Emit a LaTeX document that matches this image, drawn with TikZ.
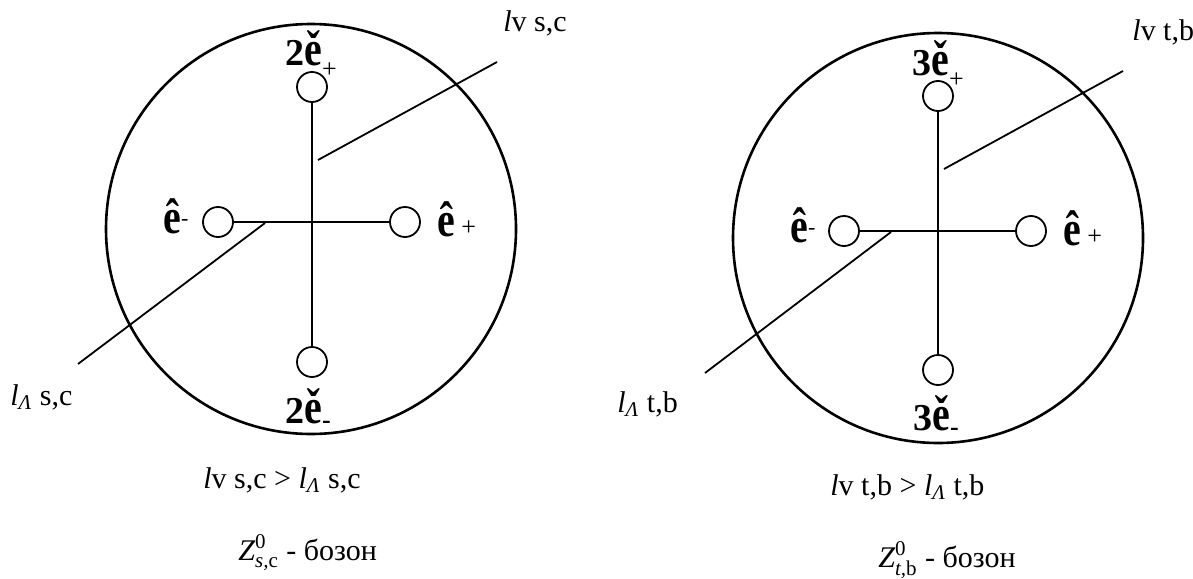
\documentclass[tikz,border=0pt]{standalone}
\usepackage{fontspec}
\setmainfont{Liberation Serif}
\usepackage{amsmath}
\usepackage{graphicx}
\usetikzlibrary{positioning}

% accented vectors and their indices
\newcommand{\eCaron}{\scalebox{1.05}[1.3]{ě}}
\newcommand{\eHat}{\scalebox{1.05}[1.3]{ê}}
\newcommand{\subPlus}{{\fontsize{13}{13}\selectfont\mdseries\raisebox{-6pt}{+}}}
\newcommand{\sidePlus}{{\fontsize{13}{13}\selectfont\mdseries\raisebox{0.5pt}{+}}}
\newcommand{\subMinus}{{\fontsize{13}{13}\selectfont\bfseries\raisebox{-2.8pt}{-}}}
\newcommand{\supMinus}{{\fontsize{11}{11}\selectfont\mdseries\raisebox{4pt}{-}}}
\newcommand{\lLam}{\textit{l}\textsubscript{\textit{Λ}}}

\begin{document}
\begin{tikzpicture}[
    x=0.5pt, y=-0.5pt,
    ring/.style={line width=1.3pt},
    pole/.style={draw, circle, minimum size=15pt, inner sep=0pt, line width=0.9pt},
    axis/.style={line width=0.9pt},
    vec/.style={anchor=base west, inner sep=0pt, font=\fontsize{19}{22}\selectfont\bfseries},
    txt/.style={anchor=base west, inner sep=0pt, font=\fontsize{15}{18}\selectfont}
  ]
    \useasboundingbox (0,0) rectangle (1193,578);

    % left: s,c
    \draw[ring] (311,229) circle [radius=205];
    \node[pole] (lt) at (312,87) {};
    \node[pole] (lb) at (312,362) {};
    \node[pole] (ll) at (218,222) {};
    \node[pole] (lr) at (405,222) {};
    \draw[axis] (lt) -- (lb);
    \draw[axis] (ll) -- (lr);
    \coordinate (lua) at (318,160);
    \coordinate (lub) at (497,62);
    \coordinate (lla) at (265,223);
    \coordinate (llb) at (78,364);
    \draw[axis] (lua) -- (lub);
    \draw[axis] (lla) -- (llb);
    \node[vec] (ltl) at (285,65) {2\eCaron\subPlus};
    \node[vec] (lbl) at (285,423) {2\eCaron\subMinus};
    \node[vec] (lll) at (163,233) {\eHat\supMinus};
    \node[vec] (lrl) at (437,236) {\eHat\,\sidePlus};
    \node[txt] (lv1) at (503,32) {\textit{l}v s,c};
    \node[txt] (ll1) at (10,405) {\lLam{} s,c};
    \node[txt] (lcmp) at (203,488) {\textit{l}v s,c > \lLam{} s,c};
    \node[txt] (lz) at (238,560) {$\textit{Z}^{\text{0}}_{\textit{s,}\text{c}}$ - бозон};

    % right: t,b
    \draw[ring] (938,238) circle [radius=205];
    \node[pole] (rt) at (938,96) {};
    \node[pole] (rb) at (938,370) {};
    \node[pole] (rl) at (844,231) {};
    \node[pole] (rr) at (1031,231) {};
    \draw[axis] (rt) -- (rb);
    \draw[axis] (rl) -- (rr);
    \coordinate (rua) at (944,169);
    \coordinate (rub) at (1123,71);
    \coordinate (rla) at (891,232);
    \coordinate (rlb) at (705,373);
    \draw[axis] (rua) -- (rub);
    \draw[axis] (rla) -- (rlb);
    \node[vec] (rtl) at (912,75) {3\eCaron\subPlus};
    \node[vec] (rbl) at (913,430) {3\eCaron\subMinus};
    \node[vec] (rll) at (790,242) {\eHat\supMinus};
    \node[vec] (rrl) at (1063,245) {\eHat\,\sidePlus};
    \node[txt] (rv1) at (1132,40) {\textit{l}v t,b};
    \node[txt] (rl1) at (617,412) {\lLam{} t,b};
    \node[txt] (rcmp) at (830,495) {\textit{l}v t,b > \lLam{} t,b};
    \node[txt] (rz) at (878,567) {$\textit{Z}^{\text{0}}_{\textit{t,}\text{b}}$ - бозон};
  \end{tikzpicture}
\end{document}
